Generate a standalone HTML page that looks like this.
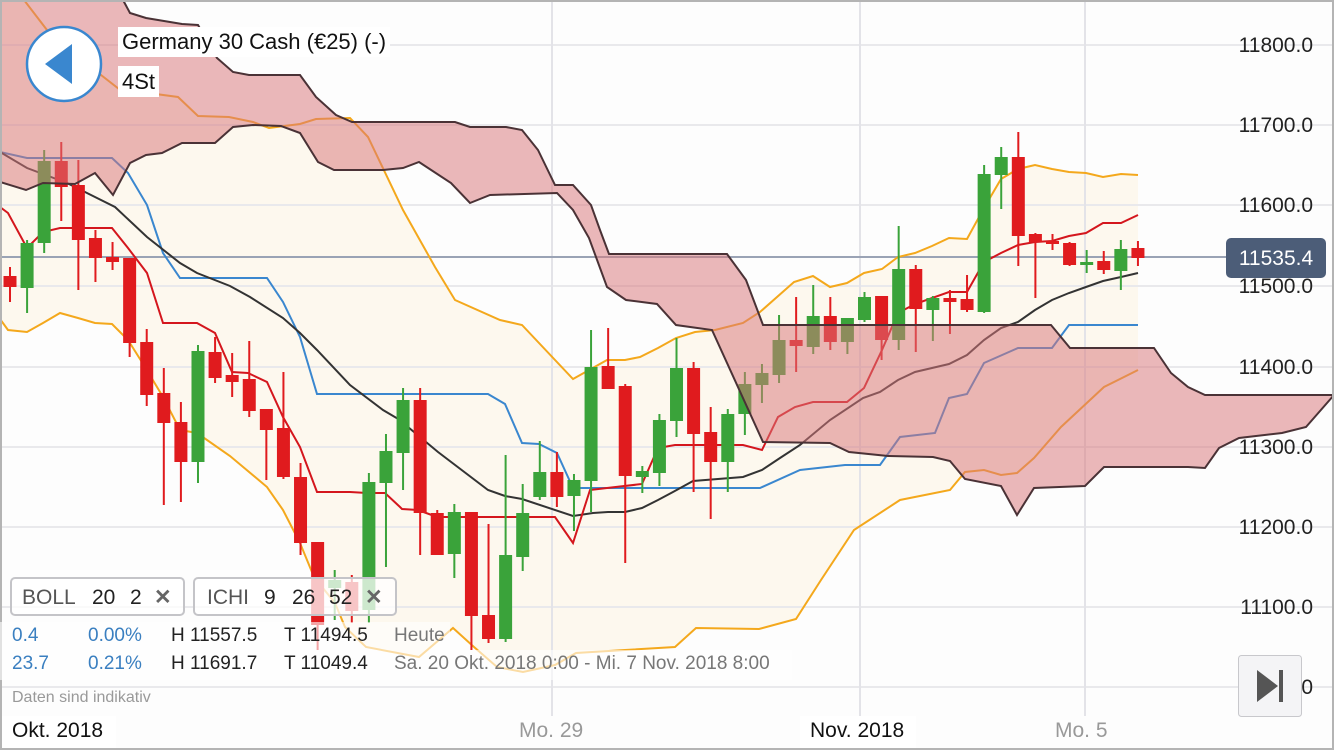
<!DOCTYPE html>
<html><head><meta charset="utf-8">
<style>
html,body{margin:0;padding:0;background:#fff;}
#w{position:relative;width:1334px;height:750px;overflow:hidden;font-family:"Liberation Sans",sans-serif;background:#fdfdfd;}
svg{position:absolute;left:0;top:0;}
.t{position:absolute;white-space:nowrap;}
</style></head><body>
<div id="w">
<svg id="s" width="1334" height="750" viewBox="0 0 1334 750"></svg>

<div class="t" style="left:118px;top:27px;height:30px;padding:0 4px;background:#fff;font-size:22px;line-height:30px;color:#111;">Germany 30 Cash (€25) (-)</div>
<div class="t" style="left:118px;top:66px;height:31px;padding:0 4px;background:#fff;font-size:22px;line-height:31px;color:#111;">4St</div>

<div class="t" style="left:10px;top:577px;width:175px;height:39px;border:2px solid #c4c4c8;border-radius:5px;background:rgba(255,255,255,0.75);box-sizing:border-box;font-size:21px;line-height:37px;color:#555;"><span style="position:absolute;left:10px">BOLL</span><span style="position:absolute;left:80px;color:#222">20</span><span style="position:absolute;left:118px;color:#222">2</span><span style="position:absolute;left:142px;font-weight:bold;color:#666">✕</span></div>
<div class="t" style="left:193px;top:577px;width:204px;height:39px;border:2px solid #c4c4c8;border-radius:5px;background:rgba(255,255,255,0.75);box-sizing:border-box;font-size:21px;line-height:37px;color:#555;"><span style="position:absolute;left:12px">ICHI</span><span style="position:absolute;left:69px;color:#222">9</span><span style="position:absolute;left:97px;color:#222">26</span><span style="position:absolute;left:134px;color:#222">52</span><span style="position:absolute;left:170px;font-weight:bold;color:#666">✕</span></div>

<div class="t" style="left:0;top:622px;width:450px;height:28px;background:rgba(255,255,255,0.6);"></div>
<div class="t" style="left:0;top:650px;width:792px;height:30px;background:rgba(255,255,255,0.6);"></div>
<div class="t" style="left:12px;top:625px;font-size:19px;color:#3a7fc0;">0.4</div>
<div class="t" style="left:88px;top:625px;font-size:19px;color:#3a7fc0;">0.00%</div>
<div class="t" style="left:171px;top:625px;font-size:19px;color:#222;">H 11557.5</div>
<div class="t" style="left:284px;top:625px;font-size:19px;color:#222;">T 11494.5</div>
<div class="t" style="left:394px;top:625px;font-size:19px;color:#777;">Heute</div>
<div class="t" style="left:12px;top:653px;font-size:19px;color:#3a7fc0;">23.7</div>
<div class="t" style="left:88px;top:653px;font-size:19px;color:#3a7fc0;">0.21%</div>
<div class="t" style="left:171px;top:653px;font-size:19px;color:#222;">H 11691.7</div>
<div class="t" style="left:284px;top:653px;font-size:19px;color:#222;">T 11049.4</div>
<div class="t" style="left:394px;top:653px;font-size:19px;color:#777;">Sa. 20 Okt. 2018 0:00 - Mi. 7 Nov. 2018 8:00</div>
<div class="t" style="left:12px;top:689px;font-size:16px;color:#999;">Daten sind indikativ</div>

<div class="t" style="left:2px;top:716px;width:114px;height:32px;background:#fff;"></div>
<div class="t" style="left:12px;top:719px;font-size:21px;color:#111;">Okt. 2018</div>
<div class="t" style="left:519px;top:719px;font-size:21px;color:#999;">Mo. 29</div>
<div class="t" style="left:800px;top:716px;width:116px;height:32px;background:#fff;"></div>
<div class="t" style="left:810px;top:719px;font-size:21px;color:#111;">Nov. 2018</div>
<div class="t" style="left:1055px;top:719px;font-size:21px;color:#999;">Mo. 5</div>
</div>
<script>
var s=document.getElementById('s');var NS='http://www.w3.org/2000/svg';
function el(t,a){var e=document.createElementNS(NS,t);for(var k in a)e.setAttribute(k,a[k]);s.appendChild(e);return e;}
function pts(a){return a.map(function(p){return p[0]+','+p[1]}).join(' ');}
var up=[[0,-20],[24,0],[47,30],[101,75],[119,89],[178,97],[198,116],[229,117],[253,122],[269,128],[300,124],[316,119],[350,118],[368,137],[403,210],[435,267],[455,300],[500,320],[522,325],[573,379],[607,360],[625,360],[640,357],[658,348],[676,338],[695,332],[715,330],[743,323],[760,312],[794,282],[813,276],[830,287],[847,283],[864,273],[882,269],[898,257],[915,253],[932,246],[949,238],[967,239],[984,208],[1001,179],[1018,169],[1035,165],[1052,169],[1069,172],[1086,173],[1103,177],[1121,174],[1138,175]];
var lo=[[0,319],[8,330],[27,332],[43,323],[60,313],[78,318],[95,323],[112,324],[128,340],[145,367],[163,397],[180,430],[197,433],[230,456],[267,487],[283,510],[300,543],[314,577],[335,603],[345,627],[366,647],[419,657],[453,628],[474,647],[497,667],[523,672],[555,665],[576,653],[625,650],[675,647],[696,628],[759,629],[796,619],[821,580],[854,530],[900,500],[950,490],[965,472],[984,470],[1001,475],[1017,473],[1034,458],[1061,427],[1104,387],[1138,370]];
el('polygon',{points:pts(up.concat(lo.slice().reverse())),fill:'#fcf6ea','fill-opacity':'0.8'});
[45,125,205,286,367,447,527,607,687].forEach(function(y){el('line',{x1:0,x2:1334,y1:y,y2:y,stroke:'#e9e9ec','stroke-width':2});});
[552,860,1085].forEach(function(x){el('line',{x1:x,x2:x,y1:0,y2:716,stroke:'#e3e3e8','stroke-width':2});});
el('line',{x1:0,x2:1226,y1:257,y2:257,stroke:'#9aa3b5','stroke-width':2});
var mid=[[0,152],[27,168],[67,183],[95,197],[115,207],[147,237],[180,263],[197,273],[230,286],[250,297],[283,318],[300,333],[317,350],[350,385],[383,410],[400,420],[402,422],[438,452],[488,490],[505,496],[522,499],[573,516],[593,513],[608,512],[625,512],[642,508],[658,500],[673,492],[693,481],[743,477],[762,470],[780,458],[800,445],[830,420],[863,398],[880,392],[898,380],[915,372],[932,368],[949,364],[967,355],[984,340],[1001,328],[1018,322],[1035,310],[1052,300],[1069,293],[1086,287],[1103,281],[1121,277],[1138,273]];
var ten=[[0,207],[8,213],[27,248],[43,232],[60,228],[112,228],[128,248],[147,273],[163,323],[197,323],[215,333],[232,372],[248,373],[267,382],[283,417],[300,447],[317,492],[350,492],[367,493],[385,493],[400,507],[402,509],[418,510],[437,517],[555,517],[573,543],[590,490],[607,488],[642,484],[658,448],[675,445],[743,445],[762,450],[778,417],[795,407],[813,402],[847,402],[864,388],[882,350],[898,313],[915,304],[949,292],[967,292],[984,262],[1001,253],[1018,245],[1035,242],[1052,241],[1069,236],[1086,233],[1103,223],[1121,223],[1138,215]];
var kij=[[0,152],[27,158],[112,158],[128,173],[147,205],[163,253],[180,278],[267,278],[283,302],[300,337],[317,394],[488,394],[505,404],[522,443],[539,444],[557,453],[573,488],[760,488],[800,470],[845,465],[880,465],[900,437],[935,433],[949,398],[967,394],[984,363],[1018,348],[1052,348],[1069,325],[1138,325]];
el('polyline',{points:pts(up),fill:'none',stroke:'#f4a81c','stroke-width':2});
el('polyline',{points:pts(lo),fill:'none',stroke:'#f4a81c','stroke-width':2});
el('polyline',{points:pts(kij),fill:'none',stroke:'#3a87cf','stroke-width':2});
el('polyline',{points:pts(mid),fill:'none',stroke:'#333','stroke-width':2});
el('polyline',{points:pts(ten),fill:'none',stroke:'#d4161d','stroke-width':2});
var C=[[276,287,267,302,0],[243,288,240,313,1],[161,243,150,253,1],[161,187,142,221,0],[185,240,160,290,0],[238,258,230,282,0],[257,262,242,270,0],[258,343,258,357,0],[342,395,329,406,0],[393,423,368,505,0],[422,462,402,502,0],[351,462,345,483,1],[352,378,337,383,0],[375,382,353,397,0],[379,411,341,417,0],[409,430,409,480,0],[428,477,372,479,0],[477,543,463,555,0],[542,625,542,650,0],[580,588,570,620,1],[582,611,575,623,0],[482,610,473,623,1],[451,483,434,567,1],[400,453,388,490,1],[400,513,388,555,0],[513,555,510,555,0],[512,554,504,578,1],[512,616,512,650,0],[615,639,524,643,0],[555,639,455,642,1],[513,557,484,571,1],[472,497,441,500,1],[472,497,452,507,0],[480,496,474,531,1],[367,481,330,512,1],[366,389,328,389,0],[386,476,384,563,0],[471,477,466,493,1],[420,473,414,486,1],[368,421,338,437,1],[368,434,362,492,0],[432,462,407,519,0],[414,462,409,492,1],[384,414,372,435,1],[373,385,364,403,1],[340,375,315,383,1],[340,346,297,372,0],[316,347,285,354,1],[316,342,297,350,0],[318,342,318,354,1],[297,320,292,322,1],[296,340,296,360,0],[269,340,226,350,1],[269,309,265,352,0],[298,310,296,341,1],[298,302,290,334,0],[299,310,275,312,0],[174,312,165,313,1],[157,175,147,209,1],[157,236,132,266,0],[234,242,233,298,0],[241,244,234,250,0],[243,265,242,266,0],[262,265,250,273,1],[261,270,251,274,0],[249,271,240,290,1],[248,258,241,266,0]];
C.forEach(function(c,i){var x=10+17.09*i;var col=c[4]?'#3aa33a':'#e01b1e';
el('line',{x1:x,x2:x,y1:c[2],y2:c[3],stroke:col,'stroke-width':2});
el('rect',{x:x-6.5,y:c[0],width:13,height:Math.max(c[1]-c[0],3),fill:col});});
var A=[[0,-20],[120,-20],[123,0],[130,13],[146,18],[182,24],[198,25],[217,58],[233,72],[249,75],[300,75],[316,97],[336,115],[352,122],[455,122],[470,127],[506,127],[522,130],[538,150],[555,185],[573,185],[591,205],[600,230],[609,254],[727,254],[746,280],[763,325],[1051,325],[1070,348],[1154,348],[1171,373],[1188,387],[1205,395],[1334,395]];
var B=[[0,182],[26,190],[43,183],[75,184],[95,173],[113,195],[130,163],[146,155],[162,153],[182,143],[215,143],[233,127],[253,125],[281,126],[300,133],[318,162],[334,170],[383,170],[403,168],[419,162],[451,183],[470,203],[490,195],[557,193],[573,210],[589,238],[607,287],[626,300],[657,304],[676,325],[712,330],[763,442],[830,443],[849,452],[888,456],[933,457],[950,461],[965,479],[1001,486],[1017,515],[1034,488],[1085,486],[1104,467],[1188,467],[1205,468],[1219,448],[1239,438],[1282,433],[1306,427],[1334,395]];
el('polygon',{points:pts(A.concat(B.slice().reverse())),fill:'#d9767a','fill-opacity':'0.52'});
el('polyline',{points:pts(A),fill:'none',stroke:'#4a3236','stroke-width':2});
el('polyline',{points:pts(B),fill:'none',stroke:'#4a3236','stroke-width':2});
el('circle',{cx:64,cy:64,r:37,fill:'#fff',stroke:'#3a87cf','stroke-width':2.5});
el('polygon',{points:'45,64 72,44 72,84',fill:'#3a87cf'});
var labs=[[45,'11800.0'],[125,'11700.0'],[205,'11600.0'],[286,'11500.0'],[367,'11400.0'],[447,'11300.0'],[527,'11200.0'],[607,'11100.0'],[687,'11000.0']];
labs.forEach(function(l){var t=el('text',{x:1313,y:l[0]+7,'text-anchor':'end','font-size':21,fill:'#222','font-family':'Liberation Sans, sans-serif'});t.textContent=l[1];});
el('rect',{x:1226,y:238,width:100,height:40,rx:5,fill:'#4c5d78'});
var t=el('text',{x:1276,y:265,'text-anchor':'middle','font-size':21,fill:'#fff','font-family':'Liberation Sans, sans-serif'});t.textContent='11535.4';
el('rect',{x:1238.5,y:655.5,width:63,height:61,rx:3,fill:'#f4f4f6',stroke:'#c8c8cc'});
el('polygon',{points:'1257,670 1278,686 1257,702',fill:'#555'});
el('rect',{x:1279,y:670,width:4,height:32,fill:'#555'});
el('rect',{x:1,y:1,width:1332,height:748,fill:'none',stroke:'#b4b4b4','stroke-width':2});
</script>
</body></html>
